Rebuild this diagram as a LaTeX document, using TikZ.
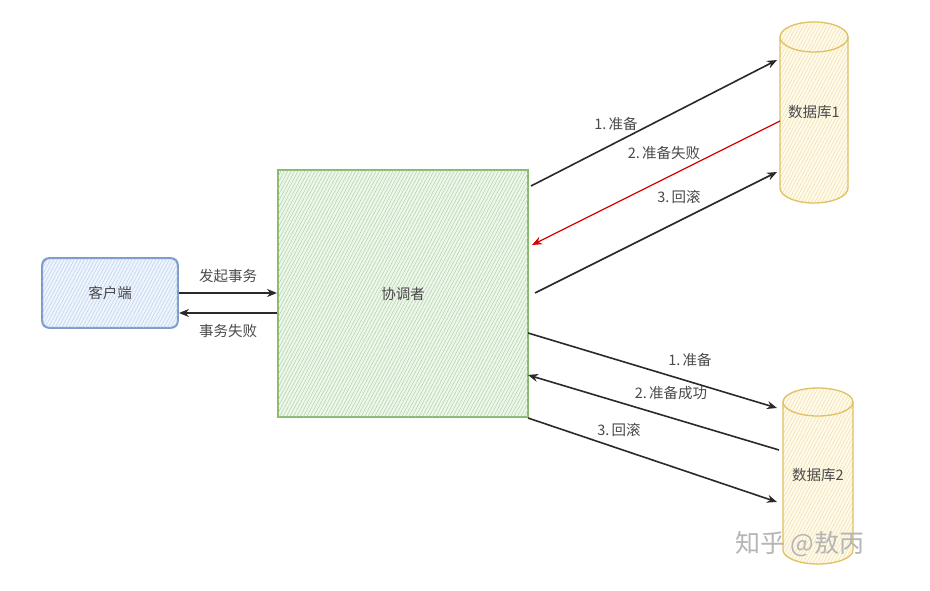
\documentclass[tikz,border=0pt]{standalone}
\usepackage{fontspec}
\setmainfont{Noto Sans CJK SC}
\usetikzlibrary{arrows.meta,patterns.meta}
\definecolor{bluefill}{HTML}{EEF4FD}
\definecolor{bluehatch}{HTML}{B8CDEA}
\definecolor{bluestroke}{HTML}{7C9CCB}
\definecolor{greenfill}{HTML}{EEF6EC}
\definecolor{greenhatch}{HTML}{A9CFA0}
\definecolor{greenstroke}{HTML}{88BB6E}
\definecolor{yelfill}{HTML}{FFFAEA}
\definecolor{yelhatch}{HTML}{EEDDA8}
\definecolor{yelstroke}{HTML}{E0C060}
\definecolor{ink}{HTML}{2A2A2A}
\definecolor{wm}{HTML}{B5B5B5}
\tikzset{
  hatchbox/.style={line width=1.3pt},
  conn/.style={draw=ink, line width=1.6pt, -{Stealth[length=10pt,width=8pt]}},
  redconn/.style={draw=red!85!black, line width=1.2pt, -{Stealth[length=10pt,width=8pt]}},
  lbl/.style={font=\fontsize{14.5}{16}\selectfont, text=ink!85},
  boxtext/.style={font=\fontsize{14.5}{16}\selectfont, text=ink!85}
}
\begin{document}
\begin{tikzpicture}[x=1pt,y=-1pt]
\useasboundingbox (0,0) rectangle (930,591);
\fill[white] (0,0) rectangle (930,591);

% client
\node[hatchbox, draw=bluestroke, fill=bluefill, rounded corners=7pt,
      minimum width=135pt, minimum height=69pt] (client) at (110,293) {};
\fill[pattern={Lines[angle=62,distance=3pt,line width=0.45pt]}, pattern color=bluehatch, rounded corners=7pt]
  (client.south west) rectangle (client.north east);
\draw[hatchbox, draw=bluestroke, rounded corners=7pt] (client.south west) rectangle (client.north east);
\node[boxtext] (clientlbl) at (client.center) {客户端};

% coordinator
\node[hatchbox, draw=greenstroke, fill=greenfill,
      minimum width=250pt, minimum height=247pt] (coord) at (403,293.5) {};
\fill[pattern={Lines[angle=62,distance=3pt,line width=0.45pt]}, pattern color=greenhatch]
  (coord.south west) rectangle (coord.north east);
\draw[hatchbox, draw=greenstroke] (coord.south west) rectangle (coord.north east);
\node[boxtext] (coordlbl) at (coord.center) {协调者};

% database 1 cylinder
\fill[yelfill] (780,37) -- (780,188) arc[start angle=180,end angle=0,x radius=34,y radius=15] -- (848,37) arc[start angle=0,end angle=-180,x radius=34,y radius=15] -- cycle;
\fill[pattern={Lines[angle=62,distance=3pt,line width=0.45pt]}, pattern color=yelhatch]
  (780,37) -- (780,188) arc[start angle=180,end angle=0,x radius=34,y radius=15] -- (848,37) arc[start angle=0,end angle=-180,x radius=34,y radius=15] -- cycle;
\draw[hatchbox, draw=yelstroke] (780,37) -- (780,188) arc[start angle=180,end angle=0,x radius=34,y radius=15] -- (848,37);
\draw[hatchbox, draw=yelstroke] (814,37) ellipse[x radius=34,y radius=15];
\node[boxtext] (db1) at (814,112) {数据库1};

% database 2 cylinder
\fill[yelfill] (783,402) -- (783,550) arc[start angle=180,end angle=0,x radius=35,y radius=14] -- (853,402) arc[start angle=0,end angle=-180,x radius=35,y radius=14] -- cycle;
\fill[pattern={Lines[angle=62,distance=3pt,line width=0.45pt]}, pattern color=yelhatch]
  (783,402) -- (783,550) arc[start angle=180,end angle=0,x radius=35,y radius=14] -- (853,402) arc[start angle=0,end angle=-180,x radius=35,y radius=14] -- cycle;
\draw[hatchbox, draw=yelstroke] (783,402) -- (783,550) arc[start angle=180,end angle=0,x radius=35,y radius=14] -- (853,402);
\draw[hatchbox, draw=yelstroke] (818,402) ellipse[x radius=35,y radius=14];
\node[boxtext] (db2) at (818,475) {数据库2};

% endpoints
\coordinate (cA) at (179,293);
\coordinate (kA) at (277,293);
\coordinate (kB) at (277,313);
\coordinate (cB) at (179,313);

\coordinate (p1s) at (531,186);
\coordinate (p1e) at (777,60);
\coordinate (f2s) at (780,121);
\coordinate (f2e) at (532,245);
\coordinate (r3s) at (535,293);
\coordinate (r3e) at (777,172);

\coordinate (q1s) at (528,333);
\coordinate (q1e) at (777,408);
\coordinate (s2s) at (779,450);
\coordinate (s2e) at (528,375);
\coordinate (b3s) at (528,418);
\coordinate (b3e) at (777,502);

% connectors
\draw[conn] (cA) -- (kA);
\draw[conn] (kB) -- (cB);
\node[lbl] (l1) at (228,276) {发起事务};
\node[lbl] (l2) at (228,331) {事务失败};

\draw[conn] (p1s) -- (p1e);
\draw[redconn] (f2s) -- (f2e);
\draw[conn] (r3s) -- (r3e);
\node[lbl] (l3) at (616,124) {1.\,准备};
\node[lbl] (l4) at (664,153) {2.\,准备失败};
\node[lbl] (l5) at (679,197) {3.\,回滚};

\draw[conn] (q1s) -- (q1e);
\draw[conn] (s2s) -- (s2e);
\draw[conn] (b3s) -- (b3e);
\node[lbl] (l6) at (690,360) {1.\,准备};
\node[lbl] (l7) at (671,393) {2.\,准备成功};
\node[lbl] (l8) at (619,430) {3.\,回滚};

% watermark
\node[font=\fontsize{25}{27}\selectfont, text=wm] (wmk) at (800,544) {知乎 @敖丙};
\end{tikzpicture}
\end{document}
